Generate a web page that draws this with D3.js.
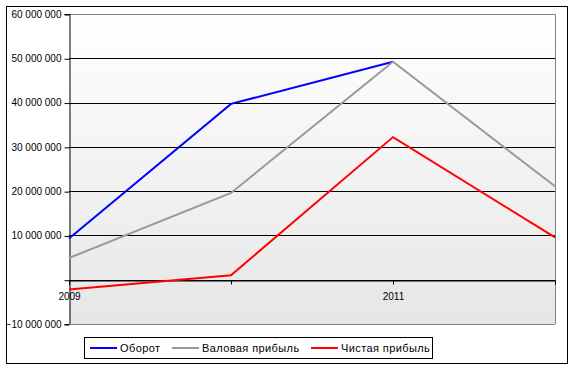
<!DOCTYPE html>
<html><head><meta charset="utf-8">
<script src="https://cdn.jsdelivr.net/npm/d3@7"></script>
<style>body{margin:0;background:#fff;} svg{display:block;font-family:"Liberation Sans",Arial,sans-serif;}</style>
</head><body><svg id="c" width="574" height="370"></svg>
<script>
const categories = ["2009","2010","2011","2012"];
const shownLabels = ["2009","2011"];
const turnover = [9300000, 39700000, 49200000, null];
const grossProfit = [4900000, 19600000, 49200000, 21100000];
const netProfit = [-2200000, 1000000, 32200000, 9550000];
const seriesNames = ["Оборот","Валовая прибыль","Чистая прибыль"];
const seriesColors = ["#0000ff","#999999","#ff0000"];
const yTicks = [-10000000,0,10000000,20000000,30000000,40000000,50000000,60000000];

const svg = d3.select("#c");
const L=69,R=555,T=14,B=324;
svg.append("rect").attr("x",6.5).attr("y",6.5).attr("width",561).attr("height",357).attr("fill","#fff").attr("stroke","#000");

const defs = svg.append("defs");
const g = defs.append("linearGradient").attr("id","bg").attr("x1",0).attr("y1",0).attr("x2",0).attr("y2",1);
g.append("stop").attr("offset","0%").attr("stop-color","#ffffff");
g.append("stop").attr("offset","100%").attr("stop-color","#e6e6e6");

const x = d3.scalePoint().domain(categories).range([L,R]);
const y = d3.scaleLinear().domain([-10000000,60000000]).range([B,T]);

svg.append("rect").attr("x",L).attr("y",T).attr("width",R-L).attr("height",B-T).attr("fill","url(#bg)");
svg.append("g").selectAll("line").data(yTicks.filter(v=>v>-10000000 && v<60000000)).join("line")
  .attr("x1",L).attr("x2",R).attr("y1",d=>Math.round(y(d))+0.5).attr("y2",d=>Math.round(y(d))+0.5)
  .attr("stroke","#000");
svg.append("path").attr("d",`M${L},${T+0.5}H${R+0.5}V${B}`).attr("fill","none").attr("stroke","#808080");
const fmt = d => d===0 ? "" : d3.format(",")(d).replace(/,/g," ");
const ya = svg.append("g").attr("transform",`translate(${L+0.5},0)`)
  .call(d3.axisLeft(y).tickValues(yTicks).tickSize(5).tickPadding(3).tickFormat(fmt));
ya.select(".domain").attr("stroke","#000");
ya.selectAll(".tick line").attr("stroke","#000").attr("transform","translate(0,0.5)");
ya.selectAll("text").attr("font-size","10px").attr("fill","#000").attr("font-family","Liberation Sans, Arial, sans-serif");
svg.append("line").attr("x1",L).attr("x2",R).attr("y1",B+0.5).attr("y2",B+0.5).attr("stroke","#808080");
const xa = svg.append("g").attr("transform",`translate(0,${Math.round(y(0))+0.5})`)
  .call(d3.axisBottom(x).tickSize(4).tickPadding(8).tickFormat(d=>shownLabels.includes(d)?d:""));
xa.select(".domain").attr("stroke","#000");
xa.selectAll(".tick line").attr("stroke","#000");
xa.selectAll("text").attr("font-size","10px").attr("fill","#000").attr("font-family","Liberation Sans, Arial, sans-serif");

const line = d3.line().defined(d=>d.v!==null).x(d=>x(d.c)).y(d=>y(d.v));
const data = [turnover,grossProfit,netProfit];
data.forEach((arr,i)=>{
  svg.append("path").datum(arr.map((v,j)=>({c:categories[j],v})))
    .attr("d",line).attr("fill","none").attr("stroke",seriesColors[i]).attr("stroke-width",2);
});

const lg = svg.append("g");
lg.append("rect").attr("x",84.5).attr("y",337.5).attr("width",348).attr("height",21).attr("fill","#fff").attr("stroke","#000");
const lx = [90,172,311];
seriesNames.forEach((n,i)=>{
  lg.append("line").attr("x1",lx[i]).attr("x2",lx[i]+27).attr("y1",348).attr("y2",348).attr("stroke",seriesColors[i]).attr("stroke-width",2);
  lg.append("text").attr("x",lx[i]+30).attr("y",352).attr("font-size","11px").attr("letter-spacing","0.4px").attr("fill","#000").text(n);
});
</script></body></html>
